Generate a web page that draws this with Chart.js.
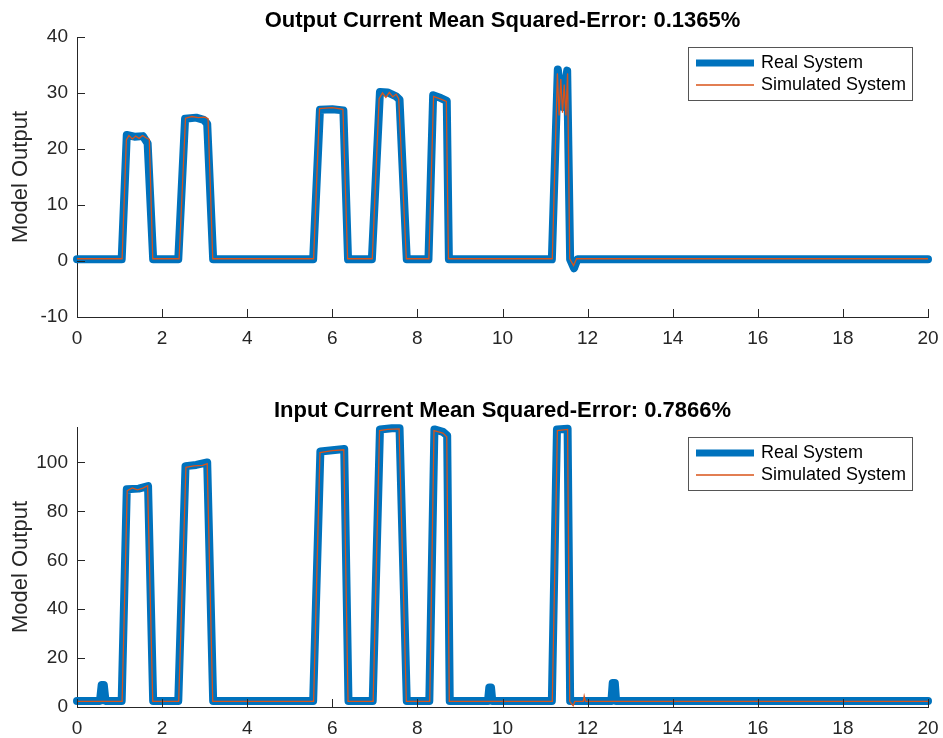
<!DOCTYPE html>
<html>
<head>
<meta charset="utf-8">
<title>Model Output</title>
<script src="https://cdn.jsdelivr.net/npm/chart.js@4/dist/chart.umd.min.js"></script>
<style>
    body { margin: 0; background: #fff; }
    canvas { display: block; }
</style>
</head>
<body>
<canvas id="outChart" width="943" height="370"></canvas>
<canvas id="inChart" width="943" height="368"></canvas>
<script>
    // output current, real system (time s / value)
    const realOutT = [0, 1.05, 1.17, 1.35, 1.55, 1.66, 1.79, 2.38, 2.54, 2.8, 2.98, 3.06, 3.2, 5.55, 5.71, 6.0, 6.26, 6.37, 6.93, 7.12, 7.3, 7.5, 7.58, 7.75, 8.26, 8.37, 8.55, 8.69, 8.74, 11.16, 11.3, 11.42, 11.52, 11.59, 11.68, 11.76, 20];
    const realOutY = [0.3, 0.3, 22.5, 22.2, 22.3, 21, 0.3, 0.3, 25.4, 25.6, 25.2, 24.5, 0.3, 0.3, 27, 27.1, 26.9, 0.3, 0.3, 30.2, 30.1, 29.4, 28.8, 0.3, 0.3, 29.6, 29.1, 28.6, 0.3, 0.3, 34.2, 27.5, 34.0, 0.3, -1.3, 0.3, 0.3];

    // output current, simulated system
    const simOutT = [0, 1.06, 1.16, 1.22, 1.3, 1.38, 1.46, 1.54, 1.62, 1.7, 1.78, 2.4, 2.55, 2.7, 2.85, 3.0, 3.08, 3.19, 5.56, 5.7, 6.0, 6.25, 6.36, 6.94, 7.1, 7.18, 7.26, 7.34, 7.42, 7.5, 7.56, 7.74, 8.27, 8.38, 8.55, 8.68, 8.73, 11.17, 11.29, 11.33, 11.37, 11.41, 11.45, 11.49, 11.53, 11.58, 11.67, 11.74, 20];
    const simOutY = [0.4, 0.4, 21.6, 22.4, 21.8, 22.3, 21.9, 22.4, 22.0, 21.7, 0.4, 0.4, 25.5, 25.8, 25.6, 25.7, 25.4, 0.4, 0.4, 27.2, 27.4, 27.1, 0.4, 0.4, 29.0, 30.0, 29.2, 30.1, 29.3, 29.8, 29.0, 0.4, 0.4, 29.4, 28.9, 28.5, 0.4, 0.4, 33.5, 26, 32.5, 26.5, 31.5, 26, 33.5, 0.4, -0.8, 0.4, 0.4];

    // input current, real system
    const realInT = [0, 0.54, 0.58, 0.63, 0.67, 1.05, 1.17, 1.45, 1.67, 1.79, 2.38, 2.55, 2.8, 3.06, 3.2, 5.55, 5.72, 6.0, 6.28, 6.38, 6.95, 7.12, 7.4, 7.58, 7.75, 8.28, 8.4, 8.6, 8.7, 8.76, 9.66, 9.69, 9.73, 9.76, 11.16, 11.28, 11.53, 11.59, 12.56, 12.59, 12.64, 12.67, 20];
    const realInY = [2.5, 2.5, 9, 9, 2.5, 2.5, 89, 89.3, 90.3, 2.5, 2.5, 98.5, 99, 100, 2.5, 2.5, 104.5, 105, 105.5, 2.5, 2.5, 113.5, 114, 114, 2.5, 2.5, 113.5, 112.5, 111, 2.5, 2.5, 8, 8, 2.5, 2.5, 113.5, 113.8, 2.5, 2.5, 9.8, 9.8, 2.5, 2.5];

    // input current, simulated system
    const simInT = [0, 1.06, 1.18, 1.3, 1.42, 1.55, 1.66, 1.78, 2.39, 2.56, 2.75, 2.95, 3.06, 3.19, 5.56, 5.71, 6.0, 6.27, 6.37, 6.96, 7.11, 7.3, 7.57, 7.74, 8.29, 8.39, 8.6, 8.69, 8.75, 11.17, 11.29, 11.53, 11.58, 11.66, 11.7, 11.9, 11.92, 11.95, 20];
    const simInY = [2.3, 2.3, 88.5, 89.6, 88.8, 89.5, 90.5, 2.3, 2.3, 98, 98.6, 98.8, 99.5, 2.3, 2.3, 104, 104.8, 105.2, 2.3, 2.3, 113, 113.5, 113.7, 2.3, 2.3, 113, 112, 110.5, 2.3, 2.3, 113, 113.5, 2.3, 0.5, 2.3, 2.3, 4.5, 2.3, 2.3];

    const seriesNames = ['Real System', 'Simulated System'];
    const xTicks = [0, 2, 4, 6, 8, 10, 12, 14, 16, 18, 20];

    const BLUE = '#0072BD';
    const ORANGE = '#D95319';
    const AXIS = '#262626';
    const FONT = "'Liberation Sans', Arial, Helvetica, sans-serif";

    function toPoints(ts, ys) {
        return ts.map((t, i) => ({ x: t, y: ys[i] }));
    }

    // title centred over the plot area
    const plotTitle = {
        id: 'plotTitle',
        afterDraw(chart, args, opts) {
            const ctx = chart.ctx;
            const area = chart.chartArea;
            ctx.save();
            ctx.font = 'bold 22px ' + FONT;
            ctx.fillStyle = '#000';
            ctx.textAlign = 'center';
            ctx.textBaseline = 'middle';
            ctx.fillText(opts.text, (area.left + area.right) / 2, area.top - 16);
            ctx.restore();
        }
    };

    // tick marks pointing into the plot, matlab style
    const innerTicks = {
        id: 'innerTicks',
        afterDatasetsDraw(chart) {
            const ctx = chart.ctx;
            const area = chart.chartArea;
            const xs = chart.scales.x;
            const ys = chart.scales.y;
            ctx.save();
            ctx.strokeStyle = AXIS;
            ctx.lineWidth = 1;
            ctx.beginPath();
            xs.ticks.forEach(t => {
                const px = Math.round(xs.getPixelForValue(t.value)) + 0.5;
                ctx.moveTo(px, area.bottom);
                ctx.lineTo(px, area.bottom - 8);
            });
            ys.ticks.forEach(t => {
                const py = Math.round(ys.getPixelForValue(t.value)) + 0.5;
                ctx.moveTo(area.left, py);
                ctx.lineTo(area.left + 8, py);
            });
            ctx.stroke();
            ctx.restore();
        }
    };

    // boxed legend in the upper right corner
    const boxLegend = {
        id: 'boxLegend',
        afterDraw(chart) {
            const ctx = chart.ctx;
            const area = chart.chartArea;
            const w = 224, h = 53;
            const x0 = area.right - 16 - w;
            const y0 = area.top + 10;
            ctx.save();
            ctx.fillStyle = '#fff';
            ctx.fillRect(x0, y0, w, h);
            ctx.strokeStyle = '#555';
            ctx.lineWidth = 1;
            ctx.strokeRect(x0 + 0.5, y0 + 0.5, w, h);
            chart.data.datasets.forEach((ds, i) => {
                const yy = y0 + 16 + i * 22;
                ctx.strokeStyle = ds.borderColor;
                ctx.lineWidth = i === 0 ? 7 : ds.borderWidth;
                ctx.beginPath();
                ctx.moveTo(x0 + 8, yy);
                ctx.lineTo(x0 + 66, yy);
                ctx.stroke();
                ctx.fillStyle = '#000';
                ctx.font = '18px ' + FONT;
                ctx.textBaseline = 'middle';
                ctx.fillText(ds.label, x0 + 73, yy);
            });
            ctx.restore();
        }
    };

    function makeChart(id, title, real, sim, yOpts, layout) {
        const ctx = document.getElementById(id).getContext('2d');
        return new Chart(ctx, {
            type: 'line',
            data: {
                datasets: [{
                    label: seriesNames[0],
                    data: real,
                    borderColor: BLUE,
                    borderWidth: 8,
                    borderJoinStyle: 'round',
                    borderCapStyle: 'round',
                    pointRadius: 0,
                    clip: false,
                    order: 1
                }, {
                    label: seriesNames[1],
                    data: sim,
                    borderColor: ORANGE,
                    borderWidth: 1.3,
                    pointRadius: 0,
                    clip: false,
                    order: 0
                }]
            },
            plugins: [plotTitle, innerTicks, boxLegend],
            options: {
                responsive: false,
                animation: false,
                layout: { padding: { top: layout.top, right: 15, left: 0, bottom: 0 } },
                plugins: {
                    legend: { display: false },
                    tooltip: { enabled: false },
                    plotTitle: { text: title }
                },
                scales: {
                    x: {
                        type: 'linear',
                        min: 0,
                        max: 20,
                        afterBuildTicks: scale => { scale.ticks = xTicks.map(v => ({ value: v })); },
                        afterFit: scale => {
                            scale.height = layout.xHeight;
                            scale.paddingLeft = 0;
                            scale.paddingRight = 0;
                        },
                        grid: { display: false, drawTicks: false },
                        border: { display: true, color: AXIS, width: 1 },
                        ticks: { color: AXIS, padding: 10, font: { family: FONT, size: 19 } }
                    },
                    y: {
                        min: yOpts.min,
                        max: yOpts.max,
                        afterFit: scale => { scale.width = 77; },
                        grid: { display: false, drawTicks: false },
                        border: { display: true, color: AXIS, width: 1 },
                        ticks: {
                            stepSize: yOpts.step,
                            includeBounds: false,
                            color: AXIS,
                            padding: 9,
                            font: { family: FONT, size: 19 }
                        },
                        title: {
                            display: true,
                            text: 'Model Output',
                            color: AXIS,
                            padding: { top: 8, bottom: 0 },
                            font: { family: FONT, size: 22 }
                        }
                    }
                }
            }
        });
    }

    makeChart('outChart', 'Output Current Mean Squared-Error: 0.1365%',
        toPoints(realOutT, realOutY), toPoints(simOutT, simOutY),
        { min: -10, max: 40, step: 10 }, { top: 37, xHeight: 53 });

    makeChart('inChart', 'Input Current Mean Squared-Error: 0.7866%',
        toPoints(realInT, realInY), toPoints(simInT, simInY),
        { min: 0, max: 114.5, step: 20 }, { top: 57, xHeight: 31 });
</script>
</body>
</html>
